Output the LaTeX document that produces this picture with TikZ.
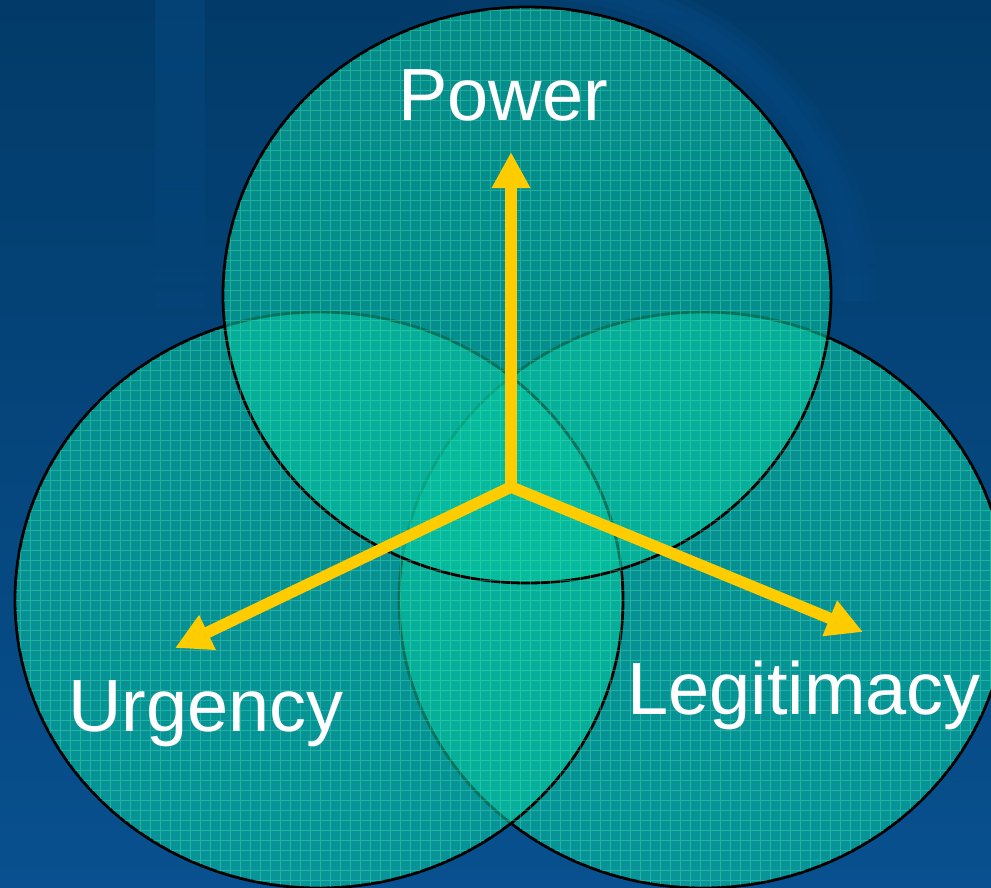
\documentclass[tikz,border=0pt]{standalone}
\usepackage{fontspec}
\setmainfont{Liberation Sans}
\usetikzlibrary{arrows.meta,shapes.geometric,fadings}
\definecolor{bgtop}{HTML}{023B69}
\definecolor{bgbot}{HTML}{08508F}
\definecolor{bgband}{HTML}{0A5596}
\definecolor{venn}{RGB}{8,196,160}
\definecolor{gridline}{HTML}{4AEAB0}
\definecolor{axisgold}{HTML}{FFCC00}
\tikzset{axishead/.tip={Triangle[width=36pt,length=36pt]}}

\begin{document}
\begin{tikzpicture}[x=1pt,y=-1pt,
  venncircle/.style={ellipse, minimum width=608pt, minimum height=576pt,
    inner sep=0pt, fill=venn, fill opacity=0.59, draw=black, line width=2.8pt},
  axisline/.style={draw=axisgold, line width=11.5pt, line join=miter},
  venntext/.style={text=white, font=\fontsize{74}{88}\selectfont,
    anchor=base, inner sep=0pt}]

  % canvas
  \useasboundingbox (0,0) rectangle (991,887);
  \shade[top color=bgtop, bottom color=bgbot] (0,0) rectangle (991,887);
  \fill[bgband, opacity=0.3, path fading=south] (155,0) rectangle (205,340);

  % centres of the three sets
  \coordinate (cT) at (527,295);
  \coordinate (cL) at (319,600);
  \coordinate (cR) at (703,600);

  % soft swoosh behind the upper set
  \begin{scope}
    \clip (560,0) rectangle (880,300);
    \foreach \w in {44,30,16}
      \draw[bgband, opacity=0.16, line width=\w pt, path fading=south]
        (cT) ellipse [x radius=328pt, y radius=312pt];
  \end{scope}

  % the three translucent sets (drawn back to front)
  \node[venncircle] (legit) at (cR) {};
  \node[venncircle] (urg)   at (cL) {};
  \node[venncircle] (pow)   at (cT) {};

  % fine grid texture inside the sets
  \begin{scope}
    \clip (cL) ellipse [x radius=303pt, y radius=287pt]
          (cR) ellipse [x radius=303pt, y radius=287pt]
          (cT) ellipse [x radius=303pt, y radius=287pt];
    \draw[gridline, opacity=0.38, line width=0.8pt] (0,0) grid[step=10pt] (991,887);
  \end{scope}

  % axes
  \coordinate (hub)  at (511,487);
  \coordinate (tipP) at (511,152);
  \coordinate (tipU) at (175,648);
  \coordinate (tipL) at (863,632);
  \draw[axisline, axishead-axishead] (tipU) -- (hub) -- (tipL);
  \draw[axisline, -axishead] (hub) -- (tipP);

  % labels
  \node[venntext] (tpow) at (503,120) {Power};
  \node[venntext] (turg) at (206,731) {Urgency};
  \node[venntext] (tleg) at (804,714) {Legitimacy};
\end{tikzpicture}
\end{document}
